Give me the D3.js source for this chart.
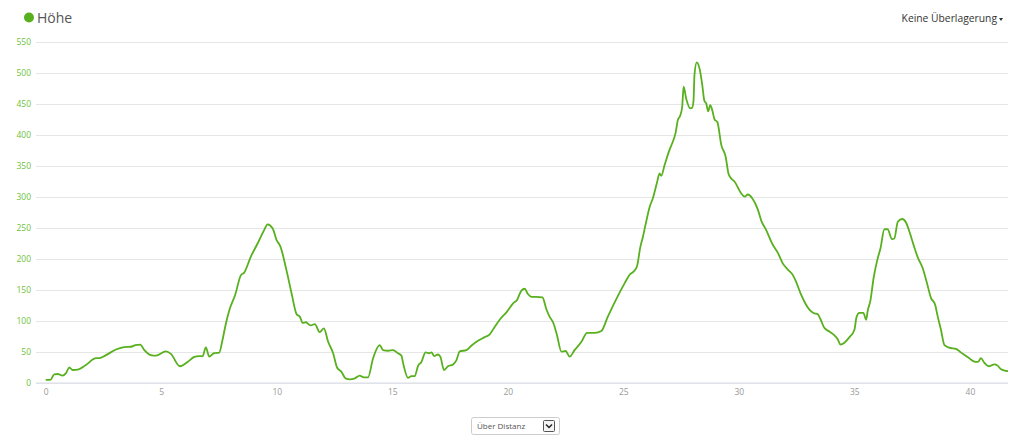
<!DOCTYPE html>
<html>
<head>
<meta charset="utf-8">
<script src="https://cdn.jsdelivr.net/npm/d3@7"></script>
<style>
  body { margin: 0; background: #fff; font-family: "Open Sans", sans-serif; }
  #chart { display: block; }
</style>
</head>
<body>
<svg id="chart" width="1024" height="441"></svg>
<script>
const kWidth = 1024;
const kHeight = 441;
const kLeft = 36;
const kRight = 1008;
const kTop = 42;
const kBottom = 383;

const seriesName = "Höhe";
const overlayLabel = "Keine Überlagerung";
const modeLabel = "Über Distanz";

const yTicks = [0, 50, 100, 150, 200, 250, 300, 350, 400, 450, 500, 550];
const xTicks = [0, 5, 10, 15, 20, 25, 30, 35, 40];

// distance in km
const distKm = [
  0, 0.2, 0.37, 0.52, 0.73, 0.88, 1.02, 1.17, 1.43, 1.74, 2.18, 2.32, 2.61, 3.04, 3.4, 3.69, 3.88, 4.09, 4.27, 4.55,
  4.77, 5.2, 5.42, 5.81, 6.14, 6.43, 6.64, 6.79, 6.93, 7.08, 7.29, 7.51, 7.65, 7.8, 7.97, 8.2, 8.45, 8.59, 8.88, 9.17,
  9.46, 9.6, 9.82, 9.99, 10.16, 10.42, 10.64, 10.86, 11.0, 11.12, 11.26, 11.46, 11.65, 11.86, 12.04, 12.22, 12.44, 12.61, 12.8, 12.98,
  13.16, 13.38, 13.59, 13.77, 13.95, 14.17, 14.46, 14.6, 14.82, 15.03, 15.25, 15.4, 15.47, 15.68, 15.83, 15.97, 16.12, 16.26, 16.44, 16.59,
  16.7, 16.81, 16.98, 17.08, 17.24, 17.41, 17.63, 17.78, 17.92, 18.21, 18.42, 18.71, 19.0, 19.22, 19.39, 19.65, 19.94, 20.23, 20.4, 20.59,
  20.73, 20.87, 21.02, 21.24, 21.5, 21.67, 21.81, 21.98, 22.13, 22.32, 22.5, 22.68, 22.89, 23.18, 23.43, 23.76, 24.05, 24.33, 24.69, 25.06,
  25.28, 25.45, 25.59, 25.74, 25.85, 25.96, 26.14, 26.28, 26.45, 26.57, 26.64, 26.79, 27.0, 27.12, 27.26, 27.36, 27.46, 27.55, 27.61, 27.72,
  27.9, 27.98, 28.04, 28.08, 28.18, 28.3, 28.41, 28.51, 28.59, 28.67, 28.76, 28.85, 28.95, 29.07, 29.24, 29.43, 29.55, 29.67, 29.81, 30.1,
  30.25, 30.39, 30.58, 30.82, 30.97, 31.18, 31.47, 31.69, 31.9, 32.12, 32.34, 32.48, 32.7, 32.84, 33.06, 33.23, 33.42, 33.52, 33.7, 33.92,
  34.14, 34.28, 34.4, 34.57, 34.79, 35.0, 35.1, 35.22, 35.39, 35.51, 35.58, 35.69, 35.84, 36.01, 36.13, 36.3, 36.44, 36.63, 36.73, 36.88,
  37.07, 37.24, 37.41, 37.56, 37.74, 37.96, 38.13, 38.32, 38.49, 38.61, 38.75, 38.9, 39.11, 39.4, 39.62, 39.9, 40.24, 40.35, 40.48, 40.62,
  40.81, 41.06, 41.2, 41.35, 41.56, 41.65
];

// elevation in m
const elevM = [
  5, 5, 14, 14.5, 12, 16, 25, 21, 22, 29, 40, 40, 45, 54, 58, 58.5, 61, 62, 53, 45,
  44, 51, 47, 27, 34, 42, 43.5, 43, 57.5, 42.5, 48, 49, 69, 96, 120, 142, 174, 178, 204, 225,
  247, 256, 249.5, 231, 220, 182, 145, 111, 107, 97, 98, 93, 95, 82, 88, 67, 48, 25, 18, 7.5,
  6, 7.5, 12, 9, 9, 40, 61, 53, 52, 53, 48, 44, 32, 8.5, 11, 11, 28, 34, 49.5, 48,
  49.5, 43.5, 46, 42.5, 21, 27, 30, 37, 51, 53, 60, 68, 74, 78.5, 88, 102, 114, 128.5, 134, 149,
  152, 143.5, 139, 139, 138, 119, 107, 96, 77, 50.5, 51.6, 42.5, 53, 66, 81, 81, 84, 107, 135, 161,
  175, 180, 188, 220, 236, 255, 284, 298, 322, 338, 334, 352, 376, 387, 403, 424, 431, 446, 478, 459,
  443, 444, 456, 497, 517, 507, 483, 455, 451, 438, 448, 440, 425, 421, 384, 365, 338, 330, 325, 306,
  300.5, 304, 298, 280, 262, 247, 223, 210, 193, 183, 174, 163, 142, 131, 118, 113, 111, 104, 89, 83,
  77, 70.5, 62, 65, 74, 85.5, 107, 113, 113, 102, 117, 132, 171, 201, 217, 248, 248, 232, 233, 260,
  264.5, 258.5, 241, 223, 203, 185, 163, 137, 127, 107, 85.5, 61, 57, 55, 49, 42, 34, 34, 40, 33,
  27, 30, 28, 22, 19.4, 19
];

const svg = d3.select("#chart");

const xScale = d3.scaleLinear()
  .domain([0, 41.65])
  .range([45.7, kRight]);

const yScale = d3.scaleLinear()
  .domain([0, 550])
  .range([kBottom, kTop]);

// grid + y labels
const yAxis = d3.axisLeft(yScale)
  .tickValues(yTicks)
  .tickSize(-(kRight - kLeft))
  .tickPadding(5);

const yG = svg.append("g")
  .attr("transform", `translate(${kLeft}, 0)`)
  .call(yAxis);
yG.select(".domain").remove();
yG.selectAll(".tick line")
  .attr("stroke", "#e6e6e6")
  .attr("stroke-width", 1);
yG.selectAll(".tick text")
  .attr("fill", "#6fbf3a")
  .style("font-family", "'Open Sans', sans-serif")
  .style("font-size", "8.5px");

// x axis
const xAxis = d3.axisBottom(xScale)
  .tickValues(xTicks)
  .tickSize(0)
  .tickPadding(6);

const xG = svg.append("g")
  .attr("transform", `translate(0, ${kBottom})`)
  .call(xAxis);
xG.select(".domain").remove();
xG.append("line")
  .attr("x1", kLeft)
  .attr("x2", kRight)
  .attr("stroke", "#d8dde6")
  .attr("stroke-width", 1);
xG.selectAll(".tick text")
  .attr("fill", "#999")
  .style("font-family", "'Open Sans', sans-serif")
  .style("font-size", "8.5px");

// elevation line
const points = distKm.map((d, i) => [d, elevM[i]]);
const line = d3.line()
  .x(d => xScale(d[0]))
  .y(d => yScale(d[1]))
  .curve(d3.curveMonotoneX);

svg.append("path")
  .datum(points)
  .attr("fill", "none")
  .attr("stroke", "#58b01e")
  .attr("stroke-width", 1.8)
  .attr("stroke-linejoin", "round")
  .attr("d", line);

// title
svg.append("circle")
  .attr("cx", 29)
  .attr("cy", 17.5)
  .attr("r", 5)
  .attr("fill", "#58b01e");
svg.append("text")
  .attr("x", 37)
  .attr("y", 23)
  .attr("fill", "#555")
  .style("font-family", "'Open Sans', sans-serif")
  .style("font-size", "14px")
  .text(seriesName);

// overlay menu
svg.append("text")
  .attr("x", 997)
  .attr("y", 22)
  .attr("text-anchor", "end")
  .attr("fill", "#333")
  .style("font-family", "'Open Sans', sans-serif")
  .style("font-size", "10.3px")
  .text(overlayLabel);
svg.append("path")
  .attr("d", "M999,18 L1003,18 L1001,21 Z")
  .attr("fill", "#333");

// mode dropdown
const dd = svg.append("g").attr("transform", "translate(471, 417)");
dd.append("rect")
  .attr("x", 0.5).attr("y", 0.5)
  .attr("width", 88).attr("height", 17)
  .attr("rx", 2)
  .attr("fill", "#fff")
  .attr("stroke", "#ccc");
dd.append("text")
  .attr("x", 6)
  .attr("y", 12)
  .attr("fill", "#555")
  .style("font-family", "'Open Sans', sans-serif")
  .style("font-size", "8px")
  .text(modeLabel);
dd.append("rect")
  .attr("x", 72.5).attr("y", 3.5)
  .attr("width", 11).attr("height", 11)
  .attr("rx", 1)
  .attr("fill", "#f4f4f4")
  .attr("stroke", "#555");
dd.append("path")
  .attr("d", "M75,7.5 L78,10.5 L81,7.5")
  .attr("fill", "none")
  .attr("stroke", "#222")
  .attr("stroke-width", 1.5);
</script>
</body>
</html>
